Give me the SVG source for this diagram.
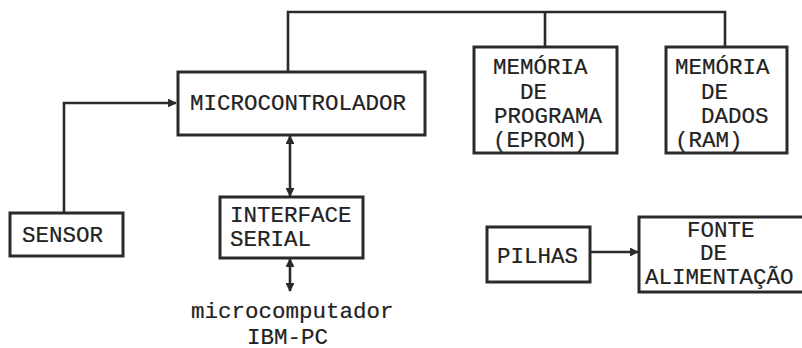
<svg xmlns="http://www.w3.org/2000/svg" width="802" height="348" viewBox="0 0 802 348">
<defs>
<marker id="ah" viewBox="0 0 10 10" refX="9" refY="5" markerWidth="3.4" markerHeight="3.4" markerUnits="strokeWidth" orient="auto-start-reverse">
<path d="M0,0 L10,5 L0,10 Z" fill="#2a2a2a"/>
</marker>
</defs>
<style>
.box{fill:#fff;stroke:#2a2a2a;stroke-width:3}
.ln{fill:none;stroke:#2a2a2a;stroke-width:2.6}
text{font-family:"Liberation Mono","Courier New",monospace;font-size:22.5px;fill:#222;stroke:#222;stroke-width:0.2}
</style>
<rect width="802" height="348" fill="#fff"/>
<g id="connectors">
<polyline class="ln" points="288,72 288,12 725,12 725,47"/>
<line class="ln" x1="545" y1="12" x2="545" y2="47"/>
<polyline class="ln" points="64,213 64,103 176,103" marker-end="url(#ah)"/>
<line class="ln" x1="290" y1="136" x2="290" y2="196" marker-start="url(#ah)" marker-end="url(#ah)"/>
<line class="ln" x1="290" y1="259" x2="290" y2="291" marker-start="url(#ah)" marker-end="url(#ah)"/>
<line class="ln" x1="591" y1="252" x2="638" y2="252" marker-end="url(#ah)"/>
</g>
<g id="microcontrolador">
<rect class="box" x="178" y="72" width="247" height="63"/>
<text x="190" y="110">MICROCONTROLADOR</text>
</g>
<g id="eprom">
<rect class="box" x="474" y="47" width="143" height="106"/>
<text x="493" y="74">MEMÓRIA</text>
<text x="520" y="99">DE</text>
<text x="494" y="123">PROGRAMA</text>
<text x="493" y="147">(EPROM)</text>
</g>
<g id="ram">
<rect class="box" x="666" y="47" width="121" height="106"/>
<text x="675" y="74">MEMÓRIA</text>
<text x="701" y="99">DE</text>
<text x="701" y="123">DADOS</text>
<text x="675" y="147">(RAM)</text>
</g>
<g id="sensor">
<rect class="box" x="10" y="213" width="113" height="43"/>
<text x="22" y="242">SENSOR</text>
</g>
<g id="interface">
<rect class="box" x="220" y="197" width="143" height="61"/>
<text x="230" y="222">INTERFACE</text>
<text x="230" y="246">SERIAL</text>
</g>
<g id="microcomputador">
<text x="191" y="318">microcomputador</text>
<text x="247" y="344">IBM-PC</text>
</g>
<g id="pilhas">
<rect class="box" x="487" y="227" width="103" height="55"/>
<text x="497" y="263">PILHAS</text>
</g>
<g id="fonte">
<rect class="box" x="639" y="217" width="166" height="75"/>
<text x="687" y="237">FONTE</text>
<text x="700" y="260">DE</text>
<text x="645" y="284">ALIMENTAÇÃO</text>
</g>
</svg>
